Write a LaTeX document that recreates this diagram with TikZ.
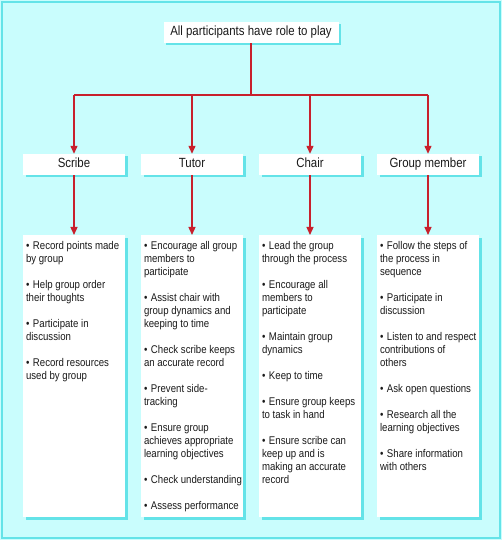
\documentclass[tikz,border=0pt]{standalone}
\usepackage{fontspec}
\setmainfont{Liberation Sans}[FakeStretch=0.86]
\usepackage{tikz}
\usetikzlibrary{arrows.meta,shadows}
\definecolor{sky}{HTML}{C9FDFD}
\definecolor{rim}{HTML}{64E3E8}
\definecolor{red}{HTML}{C8202C}
\definecolor{ink}{HTML}{1A1A1A}
\tikzset{%
  arrow/.style={line width=1.3pt,draw=red,-{Triangle[length=8pt,width=7pt]}},
  link/.style={line width=1.3pt,draw=red},
  card/.style={rectangle,fill=white,inner sep=0pt,text=ink,
    drop shadow={shadow xshift=2.5pt,shadow yshift=-2.5pt,fill=rim,opacity=1}},
  role/.style={card,minimum width=102pt,minimum height=21pt,text height=9.6pt,text depth=2.8pt,
    font=\fontsize{13.3}{15}\selectfont},
  duty/.style={card,anchor=north,inner xsep=3pt,inner ysep=6pt,font=\fontsize{11.2}{13}\selectfont},
}
\newcommand{\bul}[1]{\par\hangindent=7pt\hangafter=1\noindent\makebox[7pt][l]{\textbullet}#1}
\newcommand{\duties}[1]{\parbox[t][270pt][t]{96pt}{\raggedright\hfuzz=20pt\setlength{\rightskip}{0pt plus 1fil minus 20pt}\setlength{\parskip}{13pt}#1}}

\begin{document}
\begin{tikzpicture}[x=1pt,y=1pt]
    \useasboundingbox (0,0) rectangle (502,540);
    \fill[sky] (0,0) rectangle (502,540);
    \draw[rim,line width=2pt] (2,2) rectangle (500,538);

    \node[role,minimum width=175pt] (top) at (251,507.5) {All participants have role to play};
    \coordinate (bar) at (251,445);
    \draw[link] (top.south) -- (bar);

    \foreach \i/\x/\name in {1/74/Scribe,2/192/Tutor,3/310/Chair,4/428/Group member} {
      \node[role] (r\i) at (\x,375.5) {\name};
    }
    \draw[link] (r1.north |- bar) -- (r4.north |- bar);

    \node[duty] (c1) at (74,305) {\duties{%
      \bul{Record points made\\by group}
      \bul{Help group order\\their thoughts}
      \bul{Participate in\\discussion}
      \bul{Record resources\\used by group}}};
    \node[duty] (c2) at (192,305) {\duties{%
      \bul{Encourage all group\\members to\\participate}
      \bul{Assist chair with\\group dynamics and\\keeping to time}
      \bul{Check scribe keeps\\an accurate record}
      \bul{Prevent side-\\tracking}
      \bul{Ensure group\\achieves appropriate\\learning objectives}
      \bul{Check~understanding}
      \bul{Assess~performance}}};
    \node[duty] (c3) at (310,305) {\duties{%
      \bul{Lead the group\\through the process}
      \bul{Encourage all\\members to\\participate}
      \bul{Maintain group\\dynamics}
      \bul{Keep to time}
      \bul{Ensure group keeps\\to task in hand}
      \bul{Ensure scribe can\\keep up and is\\making an accurate\\record}}};
    \node[duty] (c4) at (428,305) {\duties{%
      \bul{Follow the steps of\\the process in\\sequence}
      \bul{Participate in\\discussion}
      \bul{Listen to and respect\\contributions of\\others}
      \bul{Ask open questions}
      \bul{Research all the\\learning objectives}
      \bul{Share information\\with others}}};

    \foreach \i in {1,2,3,4} {
      \draw[arrow] (r\i.north |- bar) -- (r\i.north);
      \draw[arrow] (r\i.south) -- (c\i.north);
    }
\end{tikzpicture}
\end{document}
